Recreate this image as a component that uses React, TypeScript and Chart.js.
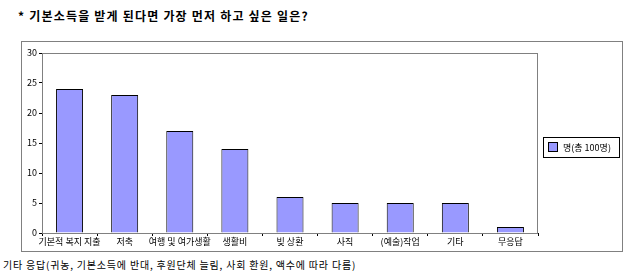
import React, { useEffect, useRef } from "react";
import { Chart, registerables } from "chart.js";
Chart.register(...registerables);

const title = "* 기본소득을 받게 된다면 가장 먼저 하고 싶은 일은?";
const footnote = "기타 응답(귀농, 기본소득에 반대, 후원단체 늘림, 사회 환원, 액수에 따라 다름)";
const categories = ["기본적 복지 지출", "저축", "여행 및 여가생활", "생활비", "빚 상환", "사직", "(예술)작업", "기타", "무응답"];
const seriesLabel = "명(총 100명)";
const values = [24, 23, 17, 14, 6, 5, 5, 5, 1];
const yMax = 30;
const yStep = 5;

const FONT = "'Noto Sans CJK KR', 'Noto Sans', sans-serif";
const BAR_COLOR = "#9999FF";

const framePlugin = {
  id: "frame",
  afterDraw(chart: any) {
    const { ctx, chartArea, width, height } = chart;
    ctx.save();
    ctx.strokeStyle = "#808080";
    ctx.lineWidth = 1;
    ctx.strokeRect(0.5, 0.5, width - 1, height - 1);
    ctx.strokeRect(
      Math.round(chartArea.left) + 0.5,
      Math.round(chartArea.top) + 0.5,
      Math.round(chartArea.right - chartArea.left) - 1,
      Math.round(chartArea.bottom - chartArea.top)
    );
    // legend box
    const bx = Math.round(chartArea.right) + 5;
    const by = 96;
    const bw = 76;
    const bh = 20;
    ctx.strokeStyle = "#000000";
    ctx.strokeRect(bx + 0.5, by + 0.5, bw, bh);
    const ds = chart.data.datasets[0];
    ctx.fillStyle = ds.backgroundColor;
    ctx.fillRect(bx + 5.5, by + 5.5, 9, 9);
    ctx.strokeStyle = "#000000";
    ctx.strokeRect(bx + 5.5, by + 5.5, 9, 9);
    ctx.fillStyle = "#000000";
    ctx.font = `9px ${FONT}`;
    ctx.textBaseline = "middle";
    ctx.textAlign = "left";
    ctx.fillText(ds.label, bx + 20, by + bh / 2 + 1);
    ctx.restore();
  },
};

export default function App() {
  const ref = useRef<HTMLCanvasElement>(null);
  useEffect(() => {
    if (!ref.current) return;
    const chart = new Chart(ref.current, {
      type: "bar",
      data: {
        labels: categories,
        datasets: [
          {
            label: seriesLabel,
            data: values,
            backgroundColor: BAR_COLOR,
            borderColor: "#000000",
            borderWidth: 1,
            categoryPercentage: 1,
            barPercentage: 0.49,
          },
        ],
      },
      options: {
        responsive: false,
        animation: false,
        layout: { padding: { top: 12, right: 85, left: 0, bottom: 0 } },
        plugins: { legend: { display: false }, tooltip: { enabled: false } },
        scales: {
          x: {
            border: { display: true, color: "#000000" },
            grid: { display: true, offset: true, drawOnChartArea: false, drawTicks: true, tickLength: 3, color: "#000000" },
            ticks: { color: "#000000", font: { family: FONT, size: 9 }, padding: 0, maxRotation: 0, autoSkip: false },
            afterFit: (s: any) => { s.height = 19; },
          },
          y: {
            min: 0,
            max: yMax,
            border: { display: true, color: "#000000" },
            grid: { display: true, drawOnChartArea: false, drawTicks: true, tickLength: 3, color: "#000000" },
            ticks: { stepSize: yStep, color: "#000000", font: { family: FONT, size: 9 }, padding: 2 },
            afterFit: (s: any) => { s.width = 21; },
          },
        },
      },
      plugins: [framePlugin],
    });
    return () => chart.destroy();
  }, []);

  return (
    <div style={{ position: "absolute", left: 0, top: 0, width: 640, height: 279, background: "#fff", fontFamily: FONT }}>
      <div style={{ position: "absolute", left: 18, top: 7, fontSize: 12, fontWeight: "bold", letterSpacing: 1.2, whiteSpace: "nowrap", color: "#000" }}>
        {title}
      </div>
      <canvas ref={ref} width={602} height={211} style={{ position: "absolute", left: 21, top: 41, width: 602, height: 211 }} />
      <div style={{ position: "absolute", left: 3, top: 257, fontSize: 10, letterSpacing: 0.8, whiteSpace: "nowrap", color: "#000" }}>
        {footnote}
      </div>
    </div>
  );
}
